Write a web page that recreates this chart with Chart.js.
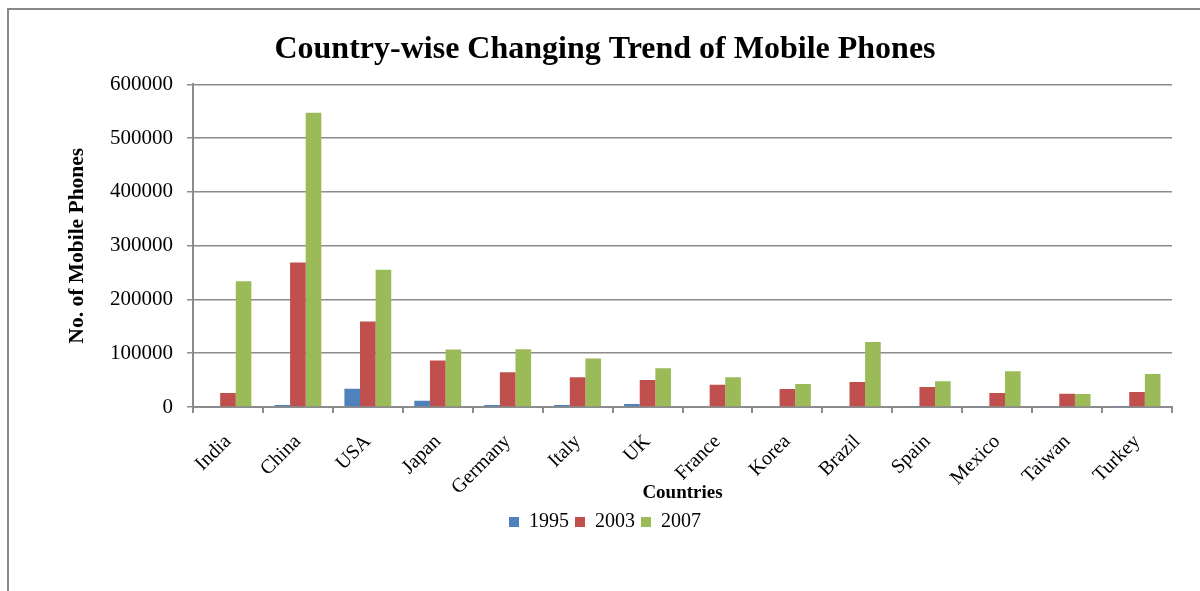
<!DOCTYPE html>
<html>
<head>
<meta charset="utf-8">
<script src="https://cdn.jsdelivr.net/npm/chart.js@4/dist/chart.umd.min.js"></script>
<style>
  html, body { margin: 0; padding: 0; background: #fff; }
  #wrap { width: 1200px; height: 591px; }
</style>
</head>
<body>
<div id="wrap"><canvas id="phonesChart" width="1200" height="591"></canvas></div>
<script>
// data (thousands of phones)
const countries = ["India", "China", "USA", "Japan", "Germany", "Italy", "UK", "France", "Korea", "Brazil", "Spain", "Mexico", "Taiwan", "Turkey"];
const years = ["1995", "2003", "2007"];
const phones1995 = [800, 3600, 33800, 11700, 3700, 3900, 5600, 1300, 1600, 1300, 900, 700, 800, 400];
const phones2003 = [26000, 268700, 159000, 86700, 64400, 55100, 50100, 41400, 33400, 46400, 37000, 26000, 24700, 27900];
const phones2007 = [234000, 547500, 255500, 107100, 107500, 90400, 71900, 55100, 42700, 121000, 48000, 66300, 24100, 61300];
const yTicks = [0, 100000, 200000, 300000, 400000, 500000, 600000];

const serif = "'Liberation Serif', 'Times New Roman', serif";
const gridGray = "#8c8c8c";

// outer frame of the chart object (cut off on the right and bottom)
const framePlugin = {
  id: "frame",
  beforeDraw(chart) {
    const ctx = chart.ctx;
    ctx.save();
    ctx.fillStyle = "#fff";
    ctx.fillRect(0, 0, chart.width, chart.height);
    ctx.strokeStyle = "#888";
    ctx.lineWidth = 2;
    ctx.strokeRect(8, 9, 1300, 700);
    ctx.restore();
  }
};

document.addEventListener("DOMContentLoaded", function() {

new Chart("phonesChart", {
  type: "bar",
  data: {
    labels: countries,
    datasets: [
      { label: years[0], data: phones1995, backgroundColor: "#4F81BD", borderWidth: 0 },
      { label: years[1], data: phones2003, backgroundColor: "#C0504D", borderWidth: 0 },
      { label: years[2], data: phones2007, backgroundColor: "#9BBB59", borderWidth: 0 }
    ]
  },
  options: {
    responsive: false,
    animation: false,
    layout: { padding: { left: 38, right: 28, top: 0, bottom: 49 } },
    datasets: {
      bar: { barPercentage: 1, categoryPercentage: 0.67 }
    },
    plugins: {
      title: {
        display: true,
        text: "Country-wise Changing Trend of Mobile Phones",
        color: "#000",
        font: { family: serif, size: 32, weight: "bold" },
        padding: { top: 31, bottom: 15 }
      },
      legend: {
        position: "bottom",
        labels: {
          color: "#000",
          font: { family: serif, size: 20 },
          boxWidth: 10,
          boxHeight: 10,
          padding: 6
        }
      },
      tooltip: { enabled: false }
    },
    scales: {
      x: {
        afterFit(scale) { scale.height = 99; },
        grid: { display: true, drawOnChartArea: false, offset: true, tickLength: 6, color: gridGray, lineWidth: 2 },
        border: { color: gridGray, width: 2 },
        ticks: {
          color: "#000",
          font: { family: serif, size: 20 },
          maxRotation: 45,
          minRotation: 45,
          padding: 17
        },
        title: {
          display: true,
          text: "Countries",
          color: "#000",
          font: { family: serif, size: 19, weight: "bold" },
          padding: { top: 0, bottom: 2 }
        }
      },
      y: {
        min: 0,
        max: 600000,
        afterFit(scale) { scale.width = 155; },
        afterBuildTicks(scale) { scale.ticks = yTicks.map(v => ({ value: v })); },
        grid: { color: gridGray, lineWidth: 1.5, tickLength: 6 },
        border: { color: gridGray, width: 2 },
        ticks: {
          color: "#000",
          font: { family: serif, size: 21 },
          padding: 14,
          callback: v => String(v)
        },
        title: {
          display: true,
          text: "No. of Mobile Phones",
          color: "#000",
          font: { family: serif, size: 21.5, weight: "bold" },
          padding: { top: 27, bottom: 0 }
        }
      }
    }
  },
  plugins: [framePlugin]
});
});
</script>
</body>
</html>
